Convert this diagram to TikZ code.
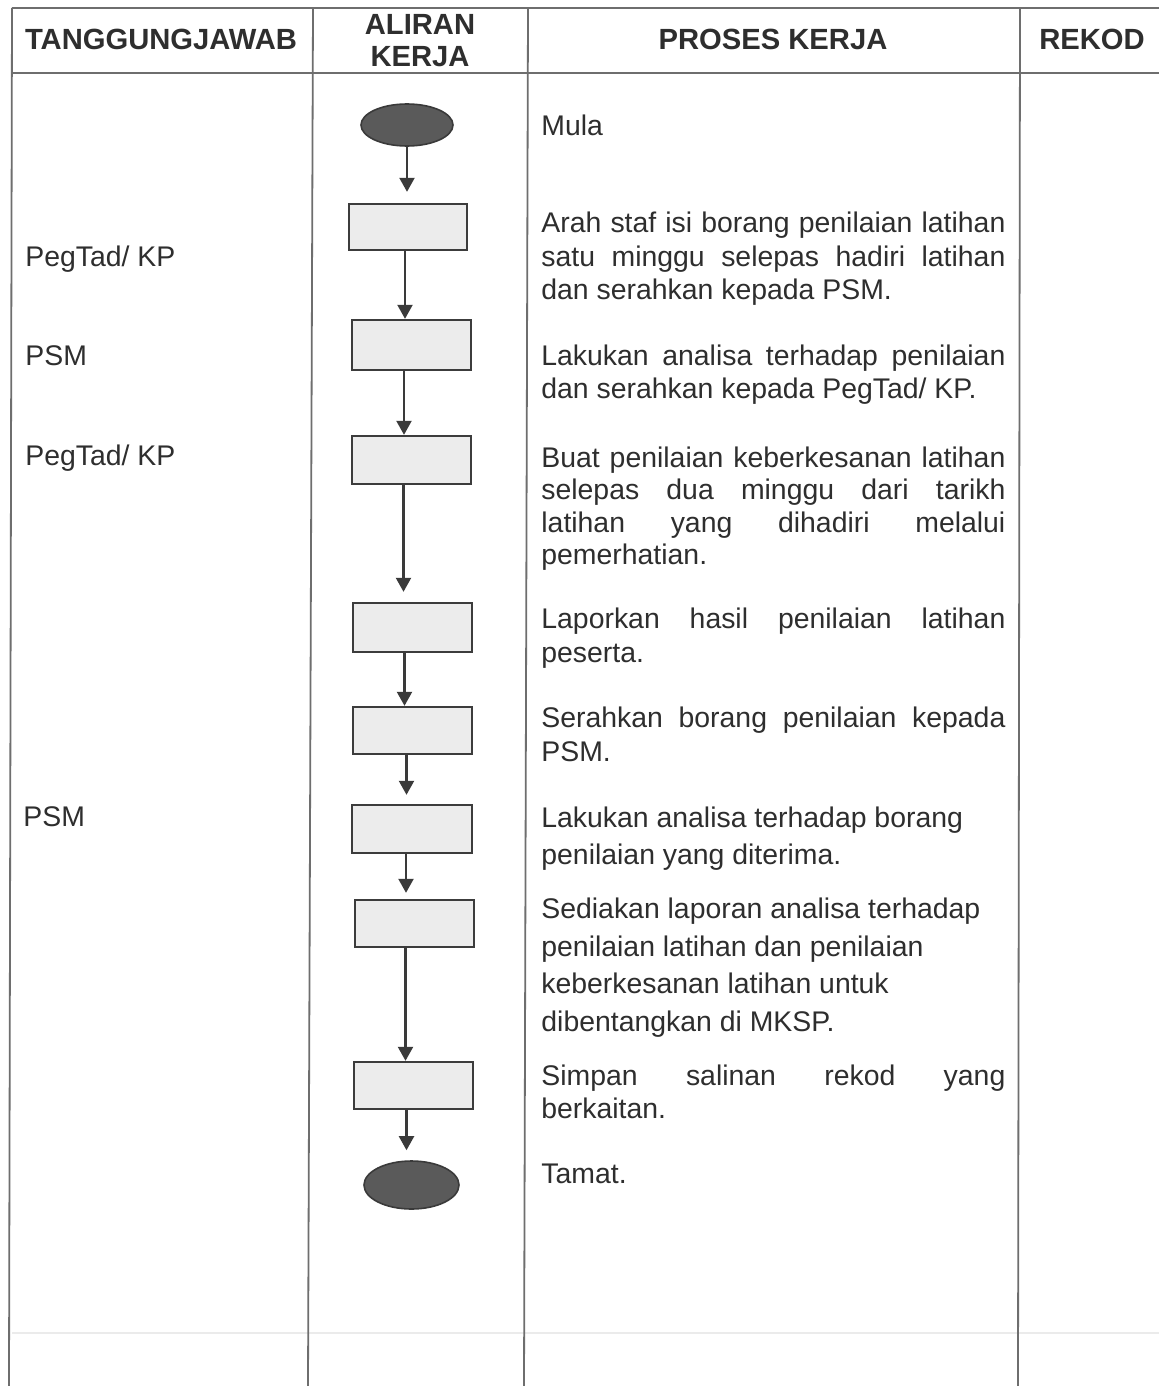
\documentclass[tikz,border=0pt]{standalone}
\usepackage{fontspec}
\setmainfont{Liberation Sans}
\usetikzlibrary{arrows.meta,shapes.geometric}
\definecolor{txt}{HTML}{2E2E2E}
\definecolor{tlinec}{HTML}{6E6E6E}
\definecolor{boxd}{HTML}{3C3C3C}
\definecolor{boxf}{HTML}{ECECEC}
\definecolor{ellf}{HTML}{5A5A5A}
\definecolor{elld}{HTML}{3A3A3A}
\definecolor{arrc}{HTML}{3A3A3A}
\definecolor{faint}{HTML}{EBEBEB}
\newcommand{\bodyfont}{\fontsize{14.2pt}{17pt}\selectfont}
\newcommand{\headfont}{\fontsize{14.6pt}{17pt}\selectfont\bfseries}
\newcommand{\jline}[1]{\makebox[232pt][s]{#1}}
\begin{document}
\begin{tikzpicture}[x=0.5pt,y=-0.5pt,
  tline/.style={draw=tlinec,line width=0.9pt},
  head/.style={anchor=base,inner sep=0pt,text=txt,font=\headfont},
  ptext/.style={anchor=base west,inner sep=0pt,text=txt,font=\bodyfont},
  flowbox/.style={draw=boxd,fill=boxf,line width=1.2pt,minimum width=59.5pt,minimum height=24pt,inner sep=0pt},
  term/.style={ellipse,draw=elld,fill=ellf,line width=0.8pt,inner sep=0pt},
  arr/.style={draw=arrc,line width=1.1pt,-{Triangle[length=7pt,width=7.5pt]}}]
\useasboundingbox (0,0) rectangle (1159,1386);
\fill[white] (0,0) rectangle (1159,1386);
% table
\draw[faint,line width=1pt] (12,1333) -- (1159,1333);
\draw[tline] (12,8) -- (1159,8);
\draw[tline] (12,73) -- (1159,73);
\draw[tline] (12,8) -- (9,1386);
\draw[tline] (313,8) -- (308,1386);
\draw[tline] (528,8) -- (524,1386);
\draw[tline] (1020,8) -- (1018,1386);
% headers
\node[head] (h1) at (161,50) {TANGGUNGJAWAB};
\node[head] (h2a) at (420,35) {ALIRAN};
\node[head] (h2b) at (420,67) {KERJA};
\node[head] (h3) at (773,50) {PROSES KERJA};
\node[head] (h4) at (1092,50) {REKOD};
% responsibility
\node[ptext] (r1) at (25,266) {PegTad/ KP};
\node[ptext] (r2) at (25,365) {PSM};
\node[ptext] (r3) at (25,465) {PegTad/ KP};
\node[ptext] (r4) at (23,826) {PSM};
% flow
\node[term,minimum width=46pt,minimum height=21pt] (s) at (407,125) {};
\node[flowbox,minimum width=59pt,minimum height=23pt] (b1) at (408,227) {};
\node[flowbox,minimum height=25pt] (b2) at (411.5,345) {};
\node[flowbox] (b3) at (411.5,460) {};
\node[flowbox,minimum height=24.5pt] (b4) at (412.5,627.5) {};
\node[flowbox,minimum height=23.5pt] (b5) at (412.5,730.5) {};
\node[flowbox,minimum width=60pt] (b6) at (412,829) {};
\node[flowbox,minimum height=23.5pt] (b7) at (414.5,923.5) {};
\node[flowbox,minimum height=23.5pt] (b8) at (413.5,1085.5) {};
\node[term,minimum width=47.5pt,minimum height=24pt] (e) at (411.5,1185) {};
\draw[arr,shorten >=5.5pt] (s) -- (s |- b1.north);
\draw[arr] ([xshift=-1.5pt]b1.south) -- ([xshift=-1.5pt]b1.south |- b2.north);
\draw[arr] ([xshift=-3.75pt]b2.south) -- ([xshift=-3.75pt]b2.south |- b3.north);
\draw[arr,shorten >=5pt] ([xshift=-4pt]b3.south) -- ([xshift=-4pt]b3.south |- b4.north);
\draw[arr] ([xshift=-4pt]b4.south) -- ([xshift=-4pt]b4.south |- b5.north);
\draw[arr,shorten >=4.5pt] ([xshift=-3pt]b5.south) -- ([xshift=-3pt]b5.south |- b6.north);
\draw[arr,shorten >=3pt] ([xshift=-3pt]b6.south) -- ([xshift=-3pt]b6.south |- b7.north);
\draw[arr] ([xshift=-4.5pt]b7.south) -- ([xshift=-4.5pt]b7.south |- b8.north);
\draw[arr,shorten >=5pt] ([xshift=-3.5pt]b8.south) -- ([xshift=-3.5pt]b8.south |- e.north);
% process text
\node[ptext] (t1) at (541,135) {Mula};
\node[ptext] (t2) at (541,232) {\jline{Arah staf isi borang penilaian latihan}};
\node[ptext] (t3) at (541,266) {\jline{satu minggu selepas hadiri latihan}};
\node[ptext] (t4) at (541,299) {dan serahkan kepada PSM.};
\node[ptext] (t5) at (541,365) {\jline{Lakukan analisa terhadap penilaian}};
\node[ptext] (t6) at (541,398) {dan serahkan kepada PegTad/ KP.};
\node[ptext] (t7) at (541,467) {\jline{Buat penilaian keberkesanan latihan}};
\node[ptext] (t8) at (541,499) {\jline{selepas dua minggu dari tarikh}};
\node[ptext] (t9) at (541,532) {\jline{latihan yang dihadiri melalui}};
\node[ptext] (t10) at (541,564) {pemerhatian.};
\node[ptext] (t11) at (541,628) {\jline{Laporkan hasil penilaian latihan}};
\node[ptext] (t12) at (541,662) {peserta.};
\node[ptext] (t13) at (541,727) {\jline{Serahkan borang penilaian kepada}};
\node[ptext] (t14) at (541,761) {PSM.};
\node[ptext] (t15) at (541,827) {Lakukan analisa terhadap borang};
\node[ptext] (t16) at (541,864) {penilaian yang diterima.};
\node[ptext] (t17) at (541,918) {Sediakan laporan analisa terhadap};
\node[ptext] (t18) at (541,956) {penilaian latihan dan penilaian};
\node[ptext] (t19) at (541,993) {keberkesanan latihan untuk};
\node[ptext] (t20) at (541,1031) {dibentangkan di MKSP.};
\node[ptext] (t21) at (541,1085) {\jline{Simpan salinan rekod yang}};
\node[ptext] (t22) at (541,1118) {berkaitan.};
\node[ptext] (t23) at (541,1183) {Tamat.};
\end{tikzpicture}
\end{document}
